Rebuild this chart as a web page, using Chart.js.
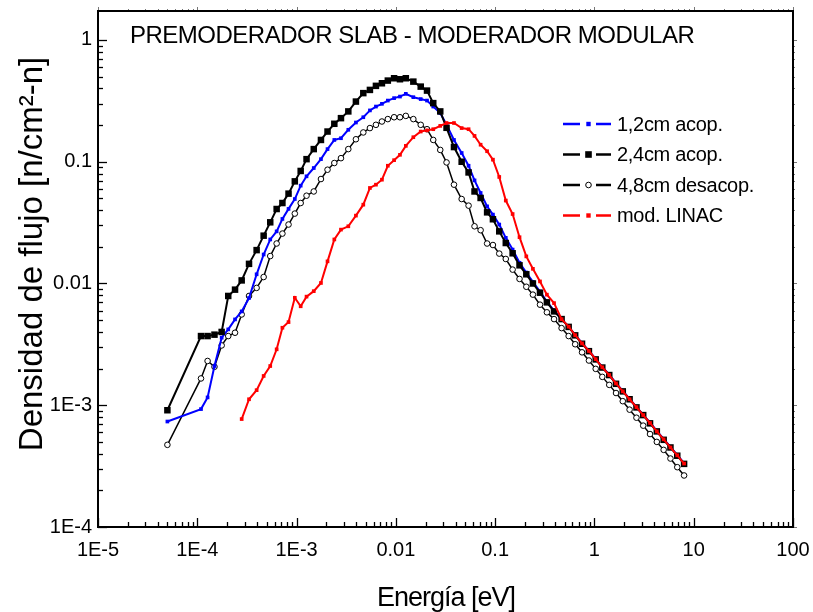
<!DOCTYPE html>
<html>
<head>
<meta charset="utf-8">
<script src="https://cdn.jsdelivr.net/npm/chart.js@4.4.0/dist/chart.umd.min.js"></script>
<style>
  body { margin: 0; background: #fff; }
  canvas { display: block; }
</style>
</head>
<body>
<canvas id="myChart" width="813" height="612"></canvas>
<script>
    // energia [eV] - common grid of the four spectra
    const energia = [
        5.0e-5, 1.09e-4, 1.27e-4, 1.49e-4, 1.76e-4, 2.05e-4, 2.4e-4, 2.8e-4, 3.32e-4, 3.96e-4,
        4.66e-4, 5.43e-4, 6.3e-4, 7.2e-4, 8.3e-4, 9.6e-4, 1.1e-3, 1.26e-3, 1.49e-3, 1.76e-3,
        2.05e-3, 2.4e-3, 2.8e-3, 3.32e-3, 3.96e-3, 4.7e-3, 5.48e-3, 6.3e-3, 7.24e-3, 8.3e-3,
        9.6e-3, 0.011, 0.0126, 0.015, 0.0178, 0.0206, 0.0238, 0.028, 0.0324, 0.0385,
        0.046, 0.054, 0.062, 0.0714, 0.083, 0.095, 0.11, 0.128, 0.15, 0.176,
        0.206, 0.24, 0.283, 0.332, 0.392, 0.467, 0.55, 0.64, 0.75, 0.88,
        1.03, 1.2, 1.41, 1.65, 1.93, 2.26, 2.65, 3.1, 3.63, 4.25,
        4.98, 5.83, 6.83, 8.0
    ];

    // 1,2cm acop.
    const flujo12 = [
        7.35e-4, 9.3e-4, 1.16e-3, 2.1e-3, 3.59e-3, 4.2e-3, 5.07e-3, 5.9e-3, 7.6e-3, 0.0119,
        0.0173, 0.023, 0.0268, 0.0339, 0.041, 0.0494, 0.0636, 0.0759, 0.0888, 0.105,
        0.127, 0.151, 0.156, 0.183, 0.21, 0.232, 0.264, 0.284, 0.299, 0.318,
        0.333, 0.343, 0.361, 0.339, 0.327, 0.318, 0.284, 0.251, 0.201, 0.151,
        0.118, 0.0927, 0.0703, 0.0554, 0.043, 0.0368, 0.0305, 0.0237, 0.019, 0.0148,
        0.0123, 0.0103, 0.0086, 0.0071, 0.006, 0.0051, 4.4e-3, 3.78e-3, 3.24e-3, 2.8e-3,
        2.4e-3, 2.06e-3, 1.78e-3, 1.52e-3, 1.31e-3, 1.13e-3, 9.7e-4, 8.35e-4, 7.2e-4, 6.15e-4,
        5.3e-4, 4.55e-4, 3.9e-4, 3.35e-4
    ];

    // 2,4cm acop.
    const flujo24 = [
        9.1e-4, 3.7e-3, 3.7e-3, 3.8e-3, 4.0e-3, 7.9e-3, 8.9e-3, 0.0106, 0.0145, 0.0188,
        0.0247, 0.0318, 0.0409, 0.0458, 0.0547, 0.069, 0.084, 0.105, 0.127, 0.151,
        0.177, 0.205, 0.228, 0.259, 0.312, 0.366, 0.389, 0.42, 0.441, 0.464,
        0.485, 0.476, 0.485, 0.455, 0.414, 0.384, 0.303, 0.259, 0.19, 0.132,
        0.1, 0.0817, 0.057, 0.0504, 0.0384, 0.0337, 0.0268, 0.0215, 0.0177, 0.0141,
        0.0119, 0.0100, 0.0084, 0.0070, 0.0059, 0.0051, 4.4e-3, 3.75e-3, 3.2e-3, 2.78e-3,
        2.38e-3, 2.04e-3, 1.77e-3, 1.5e-3, 1.3e-3, 1.12e-3, 9.6e-4, 8.3e-4, 7.1e-4, 6.1e-4,
        5.2e-4, 4.5e-4, 3.85e-4, 3.3e-4
    ];

    // 4,8cm desacop.
    const flujo48 = [
        4.73e-4, 1.66e-3, 2.31e-3, 2.07e-3, 3.1e-3, 3.7e-3, 3.94e-3, 5.57e-3, 7.9e-3, 9.2e-3,
        0.0113, 0.0168, 0.0213, 0.0257, 0.0305, 0.0375, 0.0458, 0.0526, 0.057, 0.0721,
        0.086, 0.0976, 0.107, 0.127, 0.153, 0.174, 0.189, 0.201, 0.214, 0.224,
        0.232, 0.232, 0.238, 0.224, 0.201, 0.185, 0.151, 0.125, 0.0987, 0.0648,
        0.0494, 0.0436, 0.0295, 0.0274, 0.0213, 0.0207, 0.0176, 0.0159, 0.013, 0.0109,
        0.0094, 0.0081, 0.0067, 0.0058, 0.0051, 0.0043, 3.7e-3, 3.17e-3, 2.72e-3, 2.33e-3,
        1.99e-3, 1.71e-3, 1.47e-3, 1.26e-3, 1.08e-3, 9.2e-4, 7.9e-4, 6.8e-4, 5.8e-4, 5.0e-4,
        4.3e-4, 3.65e-4, 3.1e-4, 2.65e-4
    ];

    // mod. LINAC
    const flujoLinac = [
        null, null, null, null, null, null, null, 7.7e-4, 1.12e-3, 1.33e-3,
        1.74e-3, 2.1e-3, 2.88e-3, 4.33e-3, 4.82e-3, 7.63e-3, 6.5e-3, 7.8e-3, 8.65e-3, 0.0101,
        0.0152, 0.023, 0.0277, 0.0295, 0.0361, 0.0444, 0.0609, 0.0648, 0.0712, 0.0927,
        0.103, 0.114, 0.135, 0.159, 0.177, 0.181, 0.185, 0.197, 0.208, 0.208,
        0.189, 0.185, 0.163, 0.138, 0.122, 0.104, 0.075, 0.048, 0.0372, 0.024,
        0.0167, 0.0132, 0.0104, 0.0081, 0.0069, 0.0051, 4.42e-3, 3.76e-3, 3.22e-3, 2.79e-3,
        2.39e-3, 2.05e-3, 1.77e-3, 1.51e-3, 1.3e-3, 1.12e-3, 9.65e-4, 8.3e-4, 7.15e-4, 6.1e-4,
        5.25e-4, 4.5e-4, 3.88e-4, 3.32e-4
    ];

    const seriesLabels = ["1,2cm acop.", "2,4cm acop.", "4,8cm desacop.", "mod. LINAC"];

    const xTickValues = [1e-5, 1e-4, 1e-3, 0.01, 0.1, 1, 10, 100];
    const xTickLabels = ["1E-5", "1E-4", "1E-3", "0.01", "0.1", "1", "10", "100"];
    const yTickValues = [1e-4, 1e-3, 0.01, 0.1, 1];
    const yTickLabels = ["1E-4", "1E-3", "0.01", "0.1", "1"];

    const titulo = "PREMODERADOR SLAB - MODERADOR MODULAR";
    const tituloX = "Energía [eV]";
    const tituloY = "Densidad de flujo [n/cm²-n]";

    const FONT = '"Liberation Sans", Arial, sans-serif';

    function toPoints(arr) {
        return energia.map((e, i) => ({ x: e, y: arr[i] }));
    }

    // minor/major tick marks for a log axis
    function logTicks(min, max) {
        const out = [];
        for (let e = Math.floor(Math.log10(min)); e <= Math.ceil(Math.log10(max)); e++) {
            for (let k = 1; k <= 9; k++) {
                const v = k * Math.pow(10, e);
                if (v >= min * 0.999 && v <= max * 1.001) out.push({ v: v, major: k === 1 });
            }
        }
        return out;
    }

    function drawMarker(ctx, style, cx, cy) {
        ctx.save();
        if (style.kind === "circle") {
            ctx.beginPath();
            ctx.arc(cx, cy, style.r, 0, Math.PI * 2);
            ctx.fillStyle = "#fff";
            ctx.fill();
            ctx.lineWidth = 1;
            ctx.strokeStyle = style.color;
            ctx.stroke();
        } else {
            ctx.fillStyle = style.color;
            ctx.fillRect(cx - style.r, cy - style.r, style.r * 2, style.r * 2);
        }
        ctx.restore();
    }

    const legendStyles = [
        { color: "#0000ff", kind: "rect", r: 2.2 },
        { color: "#000000", kind: "rect", r: 3.3 },
        { color: "#000000", kind: "circle", r: 2.8 },
        { color: "#ff0000", kind: "rect", r: 2.2 }
    ];

    const marcoPlugin = {
        id: "marco",
        beforeDraw(chart) {
            chart.ctx.letterSpacing = "0px";
        },
        afterDraw(chart) {
            const ctx = chart.ctx;
            const a = chart.chartArea;
            const xs = chart.scales.x;
            const ys = chart.scales.y;
            ctx.save();

            // ticks
            ctx.strokeStyle = "#000";
            ctx.lineWidth = 1.3;
            logTicks(xs.min, xs.max).forEach(t => {
                const px = Math.round(xs.getPixelForValue(t.v)) + 0.5;
                const len = t.major ? 9 : 5;
                ctx.beginPath();
                ctx.moveTo(px, a.bottom);
                ctx.lineTo(px, a.bottom - len);
                ctx.stroke();
            });
            logTicks(ys.min, ys.max).forEach(t => {
                const py = Math.round(ys.getPixelForValue(t.v)) + 0.5;
                const len = t.major ? 9 : 5;
                ctx.beginPath();
                ctx.moveTo(a.left, py);
                ctx.lineTo(a.left + len, py);
                ctx.stroke();
            });
            // faint outer ticks on top and right
            ctx.strokeStyle = "#777";
            ctx.lineWidth = 1;
            logTicks(xs.min, xs.max).forEach(t => {
                const px = Math.round(xs.getPixelForValue(t.v)) + 0.5;
                ctx.beginPath();
                ctx.moveTo(px, a.top);
                ctx.lineTo(px, a.top - (t.major ? 4 : 2));
                ctx.stroke();
            });
            logTicks(ys.min, ys.max).forEach(t => {
                const py = Math.round(ys.getPixelForValue(t.v)) + 0.5;
                ctx.beginPath();
                ctx.moveTo(a.right, py);
                ctx.lineTo(a.right + (t.major ? 4 : 2), py);
                ctx.stroke();
            });

            // frame
            ctx.strokeStyle = "#000";
            ctx.lineWidth = 2;
            ctx.strokeRect(a.left, a.top, a.right - a.left, a.bottom - a.top);

            // title inside the frame
            ctx.fillStyle = "#000";
            ctx.textAlign = "left";
            ctx.textBaseline = "alphabetic";
            ctx.font = "24px " + FONT;
            ctx.letterSpacing = "-0.5px";
            ctx.fillText(titulo, 130, 43);

            // x title
            ctx.textAlign = "center";
            ctx.font = "27px " + FONT;
            ctx.letterSpacing = "-1px";
            ctx.fillText(tituloX, 446, 606);

            // y title
            ctx.save();
            ctx.translate(42, 254);
            ctx.rotate(-Math.PI / 2);
            ctx.font = "33px " + FONT;
            ctx.letterSpacing = "0px";
            ctx.fillText(tituloY, 0, 0);
            ctx.restore();

            // legend
            ctx.textAlign = "left";
            ctx.textBaseline = "middle";
            ctx.font = "20px " + FONT;
            ctx.letterSpacing = "-0.3px";
            seriesLabels.forEach((lab, i) => {
                const st = legendStyles[i];
                const yy = 124 + i * 30.5;
                ctx.strokeStyle = st.color;
                ctx.lineWidth = 2.6;
                ctx.beginPath();
                ctx.moveTo(563, yy);
                ctx.lineTo(580, yy);
                ctx.moveTo(596, yy);
                ctx.lineTo(611, yy);
                ctx.stroke();
                drawMarker(ctx, st, 588.5, yy);
                ctx.fillStyle = "#000";
                ctx.fillText(lab, 617, yy + 1);
            });

            ctx.restore();
        }
    };

    new Chart("myChart", {
        type: "line",
        data: {
            datasets: [{
                label: seriesLabels[3],
                data: toPoints(flujoLinac),
                borderColor: "#ff0000",
                backgroundColor: "#ff0000",
                borderWidth: 2,
                pointStyle: "rect",
                pointRadius: 2.6,
                pointBorderWidth: 0,
                order: 0
            }, {
                label: seriesLabels[1],
                data: toPoints(flujo24),
                borderColor: "#000000",
                backgroundColor: "#000000",
                borderWidth: 2,
                pointStyle: "rect",
                pointRadius: 4.6,
                pointBorderWidth: 0,
                order: 1
            }, {
                label: seriesLabels[0],
                data: toPoints(flujo12),
                borderColor: "#0000ff",
                backgroundColor: "#0000ff",
                borderWidth: 2,
                pointStyle: "rect",
                pointRadius: 2.6,
                pointBorderWidth: 0,
                order: 2
            }, {
                label: seriesLabels[2],
                data: toPoints(flujo48),
                borderColor: "#000000",
                backgroundColor: "#ffffff",
                borderWidth: 1.5,
                pointStyle: "circle",
                pointRadius: 2.8,
                pointBorderWidth: 1,
                pointBorderColor: "#000000",
                pointBackgroundColor: "#ffffff",
                order: 3
            }]
        },
        options: {
            responsive: false,
            animation: false,
            layout: {
                padding: { top: 11, right: 20, left: 0, bottom: 0 }
            },
            plugins: {
                legend: { display: false },
                tooltip: { enabled: false }
            },
            scales: {
                x: {
                    type: "logarithmic",
                    min: 1e-5,
                    max: 100,
                    grid: { display: false, drawTicks: false },
                    border: { display: false },
                    afterBuildTicks: (scale) => {
                        scale.ticks = xTickValues.map(v => ({ value: v }));
                    },
                    afterFit: (scale) => {
                        scale.height = 85;
                        scale.paddingLeft = 0;
                        scale.paddingRight = 0;
                    },
                    ticks: {
                        autoSkip: false,
                        maxRotation: 0,
                        padding: 11,
                        color: "#000",
                        font: { family: FONT, size: 20 },
                        callback: (value, index) => xTickLabels[index]
                    }
                },
                y: {
                    type: "logarithmic",
                    min: 1e-4,
                    max: 1.73,
                    grid: { display: false, drawTicks: false },
                    border: { display: false },
                    afterBuildTicks: (scale) => {
                        scale.ticks = yTickValues.map(v => ({ value: v }));
                    },
                    afterFit: (scale) => {
                        scale.width = 98;
                        scale.paddingTop = 0;
                        scale.paddingBottom = 0;
                    },
                    ticks: {
                        autoSkip: false,
                        padding: 6,
                        color: "#000",
                        font: { family: FONT, size: 20 },
                        callback: (value, index) => yTickLabels[index]
                    }
                }
            }
        },
        plugins: [marcoPlugin]
    });
</script>
</body>
</html>
